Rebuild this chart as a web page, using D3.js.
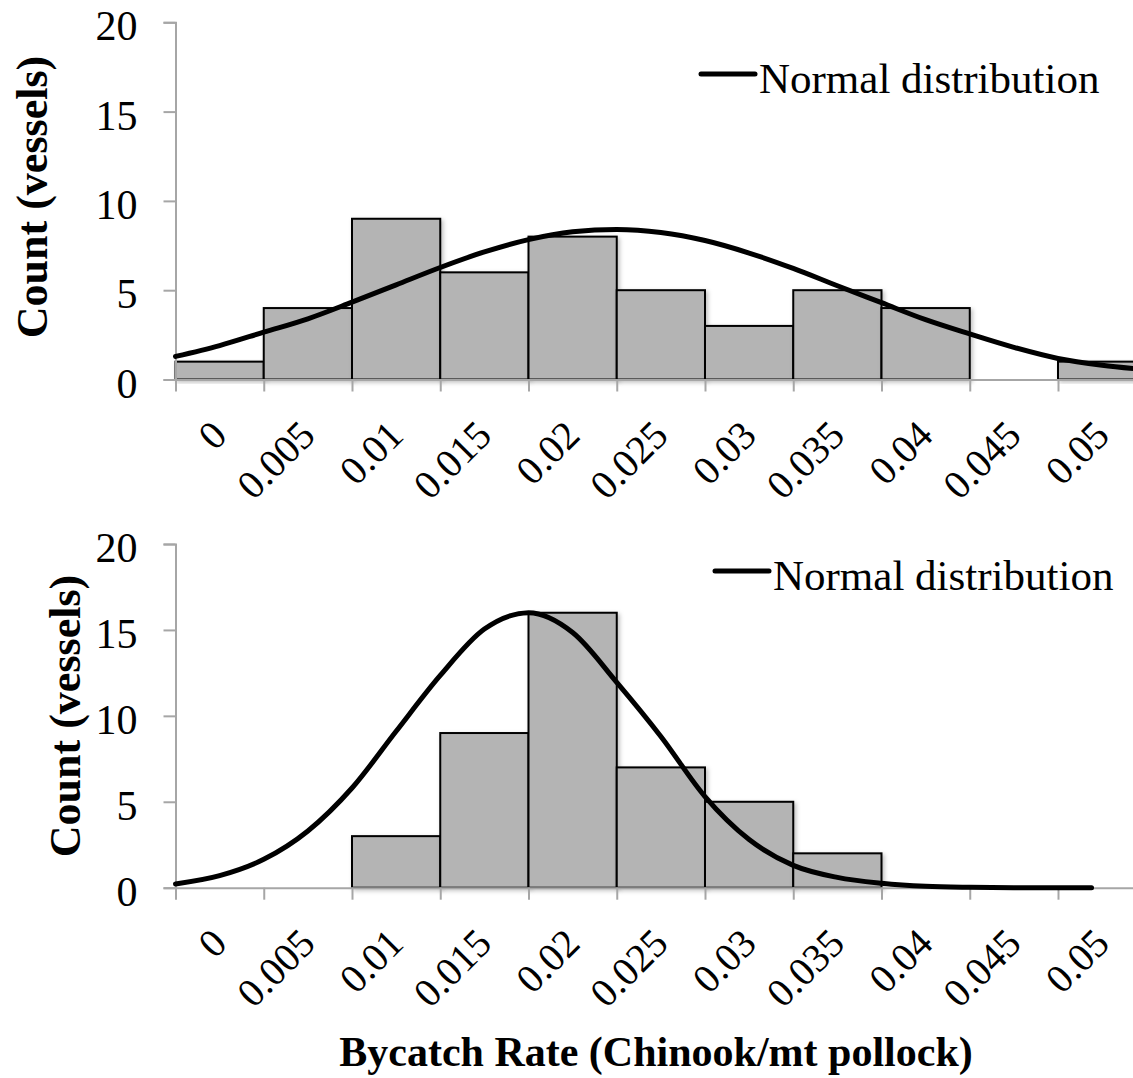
<!DOCTYPE html>
<html>
<head>
<meta charset="utf-8">
<script src="https://cdnjs.cloudflare.com/ajax/libs/d3/7.8.5/d3.min.js"></script>
<style>
  body { margin: 0; background: #fff; }
  svg { display: block; }
  text { font-family: "Liberation Serif", "Tinos", "Times New Roman", "DejaVu Serif", serif; }
</style>
</head>
<body>
<svg id="chart" width="1133" height="1078"></svg>
<script>
// bins are 0.005 wide, value = left edge of bin
let binStarts = [0, 0.005, 0.01, 0.015, 0.02, 0.025, 0.03, 0.035, 0.04, 0.045, 0.05];
let topCounts = [1, 4, 9, 6, 8, 5, 3, 5, 4, 0, 1];
let bottomCounts = [0, 0, 3, 9, 16, 7, 5, 2, 0, 0, 0];

let tickValues = [0, 0.005, 0.01, 0.015, 0.02, 0.025, 0.03, 0.035, 0.04, 0.045, 0.05];
let tickLabels = ["0", "0.005", "0.01", "0.015", "0.02", "0.025", "0.03", "0.035", "0.04", "0.045", "0.05"];
let yTicks = [0, 5, 10, 15, 20];

// normal curves
let topCurveX = [0, 0.0025, 0.005, 0.0075, 0.01, 0.0125, 0.015, 0.0175, 0.02, 0.0225, 0.025, 0.0275,
                 0.03, 0.0325, 0.035, 0.0375, 0.04, 0.0425, 0.045, 0.0475, 0.05, 0.0525, 0.055];
let topCurveY = [1.29, 1.9, 2.65, 3.4, 4.33, 5.3, 6.27, 7.14, 7.83, 8.27, 8.4, 8.23,
                 7.78, 7.08, 6.22, 5.25, 4.3, 3.35, 2.55, 1.8, 1.18, 0.8, 0.55];
let bottomCurveX = [0, 0.0025, 0.005, 0.0075, 0.01, 0.0125, 0.015, 0.0175, 0.02, 0.0225, 0.025,
                    0.0275, 0.03, 0.0325, 0.035, 0.0375, 0.04, 0.0425, 0.045, 0.0475, 0.05, 0.0519];
let bottomCurveY = [0.22, 0.7, 1.65, 3.3, 5.8, 9.1, 12.35, 15.05, 16.0, 14.85, 11.95,
                    8.8, 5.3, 2.8, 1.3, 0.6, 0.26, 0.08, 0.02, 0, 0, 0];

var svg = d3.select("#chart");
var axisGrey = "#a6a6a6";

// soft excel-like shadow on bars
var defs = svg.append("defs");
defs.append("filter").attr("id", "shadow")
    .attr("x", "-10%").attr("y", "-10%").attr("width", "130%").attr("height", "130%")
  .append("feDropShadow")
    .attr("dx", 2).attr("dy", 2).attr("stdDeviation", 2)
    .attr("flood-color", "#000").attr("flood-opacity", 0.25);

var x = d3.scaleLinear().domain([0, 0.055]).range([175.5, 1146.25]);

function drawPanel(counts, curveX, curveY, y0, y1, yLabelX, yLabelY, legendY, legendX) {
    var y = d3.scaleLinear().domain([0, 20]).range([y0, y1]);
    var g = svg.append("g");

    // bars
    var bars = binStarts.map(function (d, i) { return { x: d, c: counts[i] }; })
        .filter(function (d) { return d.c > 0; });
    g.append("g").selectAll("rect")
        .data(bars)
        .enter()
        .append("rect")
        .attr("x", function (d) { return x(d.x); })
        .attr("y", function (d) { return y(d.c); })
        .attr("width", function (d) { return x(d.x + 0.005) - x(d.x); })
        .attr("height", function (d) { return y(0) - y(d.c); })
        .attr("fill", "#b4b4b4")
        .attr("stroke", "#000")
        .attr("stroke-width", 2)
        .attr("filter", "url(#shadow)");

    // y axis
    var yAxis = g.append("g")
        .attr("transform", "translate(" + x(0) + ",0)")
        .call(d3.axisLeft(y).tickValues(yTicks).tickSize(12).tickPadding(26).tickFormat(d3.format("d")));
    yAxis.attr("font-family", null);
    yAxis.select(".domain").attr("stroke", axisGrey).attr("stroke-width", 2);
    yAxis.selectAll(".tick line").attr("stroke", axisGrey).attr("stroke-width", 2);
    yAxis.selectAll(".tick text")
        .attr("font-size", "42px")
        .attr("fill", "#000")
        .attr("dy", "0.42em");

    // x axis
    var xAxis = g.append("g")
        .attr("transform", "translate(0," + y(0) + ")")
        .call(d3.axisBottom(x).tickValues(tickValues).tickSize(12).tickSizeOuter(0)
            .tickFormat(function (d, i) { return tickLabels[i]; }));
    xAxis.attr("font-family", null);
    xAxis.select(".domain").attr("stroke", axisGrey).attr("stroke-width", 2);
    xAxis.selectAll(".tick line").attr("stroke", axisGrey).attr("stroke-width", 2);
    xAxis.selectAll(".tick text")
        .attr("font-size", "40px")
        .attr("fill", "#000")
        .attr("text-anchor", "end")
        .attr("x", 0).attr("y", 0).attr("dy", 0)
        .attr("transform", "translate(53,58) rotate(-45)");

    // normal curve
    var line = d3.line()
        .x(function (d) { return x(d[0]); })
        .y(function (d) { return y(d[1]); })
        .curve(d3.curveMonotoneX);
    g.append("path")
        .datum(curveX.map(function (d, i) { return [d, curveY[i]]; }))
        .attr("d", line)
        .attr("fill", "none")
        .attr("stroke", "#000")
        .attr("stroke-width", 5)
        .attr("stroke-linecap", "round");

    // y label
    g.append("text")
        .attr("transform", "translate(" + yLabelX + "," + yLabelY + ") rotate(-90)")
        .attr("text-anchor", "middle")
        .attr("font-weight", "bold")
        .attr("font-size", "44px")
        .text("Count (vessels)");

    // legend
    g.append("line")
        .attr("x1", legendX).attr("x2", legendX + 54)
        .attr("y1", legendY).attr("y2", legendY)
        .attr("stroke", "#000").attr("stroke-width", 5).attr("stroke-linecap", "round");
    g.append("text")
        .attr("x", legendX + 58)
        .attr("y", legendY + 19)
        .attr("font-size", "43px")
        .text("Normal distribution");
}

drawPanel(topCounts, topCurveX, topCurveY, 379.5, 22.3, 47, 197, 74, 701);
drawPanel(bottomCounts, bottomCurveX, bottomCurveY, 887.7, 544, 80, 716, 571, 715);

svg.append("text")
    .attr("x", 656)
    .attr("y", 1066)
    .attr("text-anchor", "middle")
    .attr("font-weight", "bold")
    .attr("font-size", "42px")
    .text("Bycatch Rate (Chinook/mt pollock)");
</script>
</body>
</html>
